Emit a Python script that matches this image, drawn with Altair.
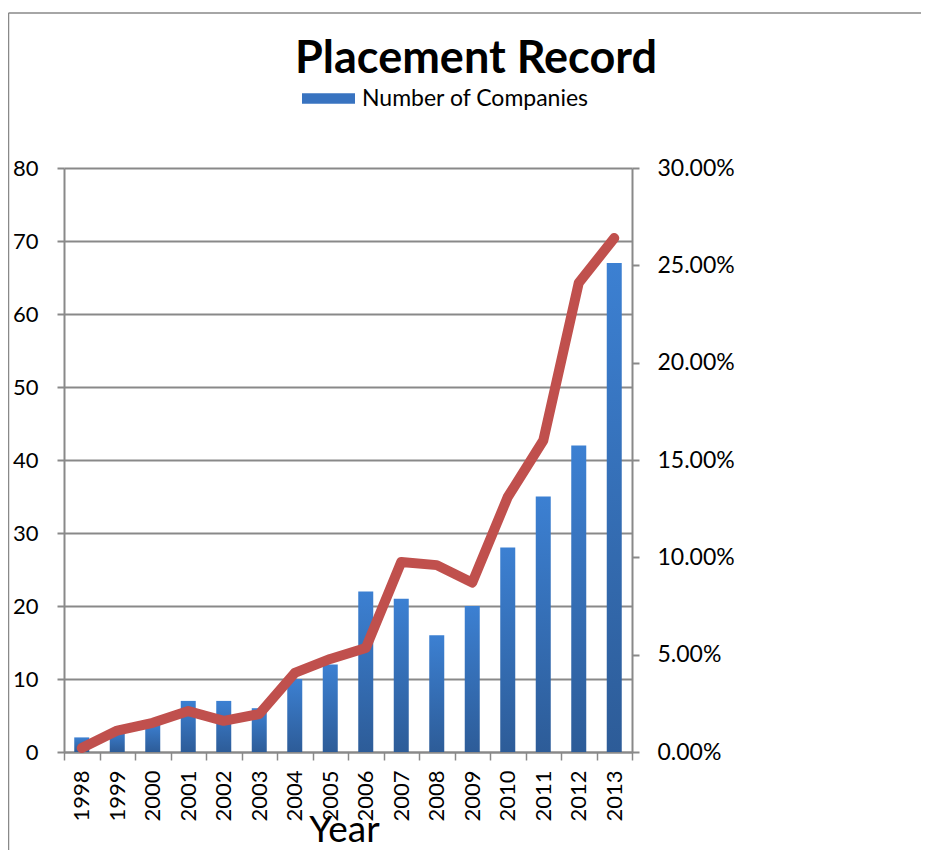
import altair as alt
import pandas as pd

years = [str(y) for y in range(1998, 2014)]
companies = [2, 3, 4, 7, 7, 6, 10, 12, 22, 21, 16, 20, 28, 35, 42, 67]
placement_pct = [0.002, 0.011, 0.015, 0.021, 0.016, 0.0195, 0.0406, 0.0478,
                 0.0534, 0.0976, 0.096, 0.087, 0.131, 0.160, 0.241, 0.264]
series_name = "Number of Companies"
left_ticks = list(range(0, 81, 10))
right_ticks = [0, 0.05, 0.10, 0.15, 0.20, 0.25, 0.30]

df = pd.DataFrame({"Year": years, "Companies": companies, "Pct": placement_pct,
                   "Series": [series_name] * len(years)})

FONT = "Lato"
GRAY = "#898989"
LINE_RED = "#c0504d"
bar_grad = {"gradient": "linear", "x1": 0, "y1": 0, "x2": 0, "y2": 1,
            "stops": [{"offset": 0, "color": "#3c80d2"},
                      {"offset": 1, "color": "#2d5c98"}]}

x_enc = alt.X("Year:O",
              scale=alt.Scale(type="band", paddingInner=0, paddingOuter=0),
              axis=alt.Axis(title="Year", labelAngle=270, labelFontSize=22,
                            labelFont=FONT, labelColor="black", labelPadding=10,
                            tickBand="extent", tickSize=8, tickColor=GRAY,
                            tickWidth=1.5, domainColor=GRAY, domainWidth=2,
                            titleFont=FONT, titleFontSize=37,
                            titleFontWeight="normal", titleColor="black",
                            titleY=89, titleX=280, titleBaseline="alphabetic"))

bars = alt.Chart(df).mark_bar(size=15, color=bar_grad).encode(
    x=x_enc,
    y=alt.Y("Companies:Q", scale=alt.Scale(domain=[0, 80], nice=False),
            axis=alt.Axis(orient="left", values=left_ticks, grid=True,
                          gridColor=GRAY, gridWidth=2, tickSize=7,
                          tickColor=GRAY, tickWidth=2, domainColor=GRAY,
                          domainWidth=2, labelPadding=19, labelFontSize=22,
                          labelFont=FONT, labelColor="black", title=None)),
)

legend_pts = alt.Chart(df).mark_point(filled=True, opacity=0).encode(
    x=x_enc,
    y=alt.Y("Companies:Q"),
    color=alt.Color("Series:N", scale=alt.Scale(range=["#3873c0"]),
                    legend=alt.Legend(title=None, orient="none", legendX=238,
                                      legendY=-96, symbolType="M-1,-0.2H1V0.2H-1Z",
                                      symbolSize=2809, symbolOpacity=1,
                                      symbolStrokeWidth=0, labelFontSize=23,
                                      labelFont=FONT, labelColor="black",
                                      labelOffset=7, labelLimit=400)),
)

line = alt.Chart(df).mark_line(color=LINE_RED, strokeWidth=10, strokeCap="round",
                               strokeJoin="round").encode(
    x=x_enc,
    y=alt.Y("Pct:Q", scale=alt.Scale(domain=[0, 0.30], nice=False),
            axis=alt.Axis(orient="right", values=right_ticks, format=".2%",
                          grid=False, tickSize=7, tickColor=GRAY, tickWidth=2,
                          domainColor=GRAY, domainWidth=2, labelPadding=18,
                          labelFontSize=23, labelFont=FONT, labelColor="black",
                          title=None)),
)

border_data = alt.Data(values=[{"k": 0}])
border_left = alt.Chart(border_data).mark_rule(color=GRAY, strokeWidth=1.5).encode(
    x=alt.value(-55.5), y=alt.value(-155), y2=alt.value(700))
border_top = alt.Chart(border_data).mark_rule(color=GRAY, strokeWidth=1.5).encode(
    x=alt.value(-55.5), x2=alt.value(900), y=alt.value(-155))

chart = alt.layer(
    alt.layer(bars, legend_pts), line, border_left, border_top
).resolve_scale(y="independent").properties(
    width=568, height=584,
    title=alt.TitleParams("Placement Record", font=FONT, fontSize=45,
                          fontWeight="bold", color="black", anchor="middle",
                          dx=128, offset=-106, baseline="alphabetic"),
    autosize=alt.AutoSizeParams(type="none"),
    padding={"left": 56, "top": 160, "right": 289, "bottom": 98},
).configure_view(stroke=None)

chart.save("out.html", embed_options={"renderer": "svg", "actions": False})
